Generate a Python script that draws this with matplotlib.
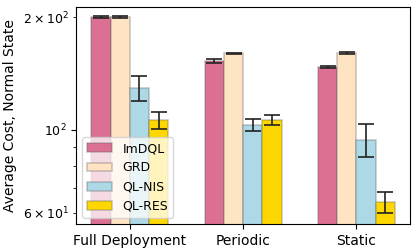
import numpy as np
import matplotlib
matplotlib.use("Agg")
import matplotlib.pyplot as plt

groups = ["Full Deployment", "Periodic", "Static"]
methods = ["ImDQL", "GRD", "QL-NIS", "QL-RES"]
colors = ["#DB7093", "#FFE4C4", "#ADD8E6", "#FFD700"]

imdql = [200.0, 152.8, 147.2]
imdql_err = [1.0, 2.0, 0.8]
grd = [200.0, 160.3, 160.3]
grd_err = [1.0, 0.5, 0.8]
qlnis = [129.4, 103.1, 94.0]
qlnis_err = [10.0, 3.5, 9.5]
qlres = [106.3, 106.3, 64.0]
qlres_err = [5.5, 3.0, 4.0]

means = [imdql, grd, qlnis, qlres]
errs = [imdql_err, grd_err, qlnis_err, qlres_err]

fig, ax = plt.subplots(figsize=(4.16, 2.52), dpi=100)
fig.subplots_adjust(left=0.183, right=0.986, top=0.972, bottom=0.111)

x = np.arange(len(groups))
w = 0.17
for i, (m, e, c, lab) in enumerate(zip(means, errs, colors, methods)):
    ax.bar(x + (i - 1.5) * w, m, w, yerr=e, color=c, label=lab,
           edgecolor=(0.4, 0.4, 0.4, 0.35), linewidth=1.2,
           capsize=6, error_kw=dict(ecolor="#222222", elinewidth=1.2, capthick=1.2))

ax.set_yscale("log")
ax.set_ylim(56, 213)
ax.set_xticks(x)
ax.set_xticklabels(groups, fontsize=10)
ax.tick_params(axis="y", which="both", labelsize=9)
ax.set_ylabel("Average Cost, Normal State", fontsize=10)
ax.legend(loc="lower left", fontsize=9, framealpha=0.75)

fig.savefig("out.png", dpi=100)
